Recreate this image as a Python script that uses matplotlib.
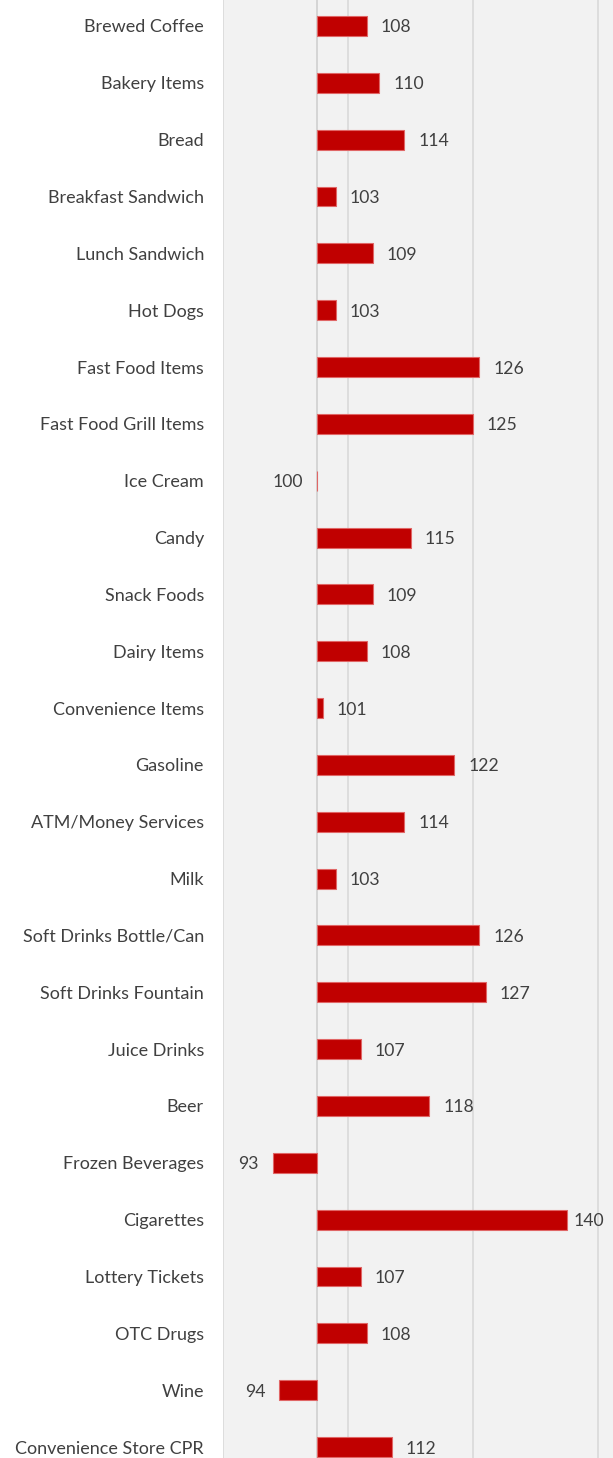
import matplotlib.pyplot as plt

categories = ['Brewed Coffee', 'Bakery Items', 'Bread', 'Breakfast Sandwich',
              'Lunch Sandwich', 'Hot Dogs', 'Fast Food Items', 'Fast Food Grill Items',
              'Ice Cream', 'Candy', 'Snack Foods', 'Dairy Items', 'Convenience Items',
              'Gasoline', 'ATM/Money Services', 'Milk', 'Soft Drinks Bottle/Can',
              'Soft Drinks Fountain', 'Juice Drinks', 'Beer', 'Frozen Beverages',
              'Cigarettes', 'Lottery Tickets', 'OTC Drugs', 'Wine',
              'Convenience Store CPR']
index_values = [108, 110, 114, 103, 109, 103, 126, 125, 100, 115, 109, 108, 101,
                122, 114, 103, 126, 127, 107, 118, 93, 140, 107, 108, 94, 112]
baseline = 100
grid_ticks = [85, 105, 125, 145]

plt.rcParams['font.family'] = ['Lato', 'DejaVu Sans']
text_color = '#404040'
bar_color = '#C00000'

W, H = 613, 1458
fig = plt.figure(figsize=(W / 100, H / 100), dpi=100)
n = len(categories)
row = (1447 - 26) / (n - 1)
top_px = 26 - row / 2
bot_px = 1447 + row / 2
ax = fig.add_axes([223 / W, (H - bot_px) / H, (W - 223) / W, (bot_px - top_px) / H])
ax.set_facecolor('#F2F2F2')

y = list(range(n))
widths = [v - baseline for v in index_values]
ax.barh(y, widths, left=baseline, height=0.35, color=bar_color,
        edgecolor='#E06666', linewidth=0.8, zorder=3)
ax.axvline(baseline, color='#D0D0D0', linewidth=1.2, zorder=2)

for yi, v in zip(y, index_values):
    if v > baseline:
        off = 5 if v >= 140 else 10
        ax.annotate(str(v), (v, yi), xytext=(off, 0), textcoords='offset points',
                    ha='left', va='center_baseline', fontsize=12.7, color=text_color)
    else:
        ax.annotate(str(v), (v, yi), xytext=(-10, 0), textcoords='offset points',
                    ha='right', va='center_baseline', fontsize=12.7, color=text_color)

ax.set_xlim(85, 85 + (W - 223) / 6.25)
ax.set_ylim(n - 0.5, -0.5)
ax.set_xticks(grid_ticks)
ax.set_xticklabels([])
ax.xaxis.grid(True, color='#D9D9D9', linewidth=1.2, zorder=0)
ax.set_axisbelow(True)
ax.set_yticks(y)
ax.set_yticklabels(categories, fontsize=13, color=text_color, va='center_baseline')
ax.tick_params(length=0, pad=13.7)
for s in ax.spines.values():
    s.set_visible(False)

fig.savefig('out.png', dpi=100)
